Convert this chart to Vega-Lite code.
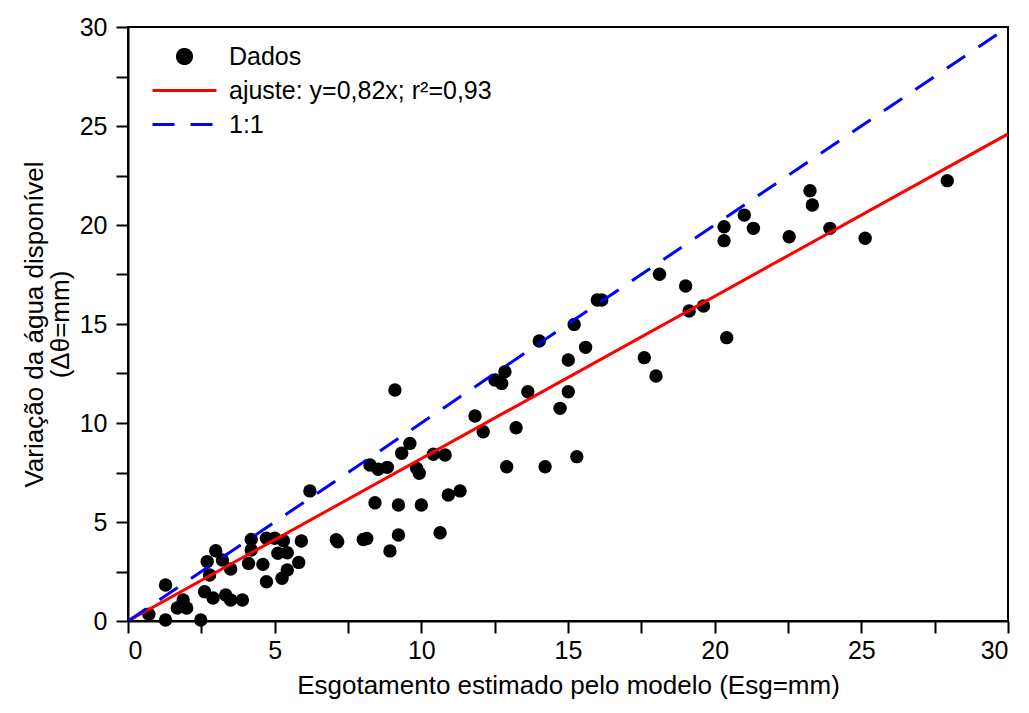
{
  "$schema": "https://vega.github.io/schema/vega-lite/v6.json",
  "autosize": "none",
  "width": 880,
  "height": 594,
  "padding": {"left": 128, "top": 27, "right": 21, "bottom": 92},
  "background": "white",
  "config": {
    "view": {"stroke": "black", "strokeWidth": 2},
    "font": "Liberation Sans",
    "axis": {
      "grid": false,
      "domainColor": "black",
      "domainWidth": 2,
      "tickColor": "black",
      "tickWidth": 2,
      "labelColor": "black",
      "labelFont": "Liberation Sans",
      "labelFontSize": 25,
      "titleFont": "Liberation Sans",
      "titleFontSize": 26,
      "titleFontWeight": "normal",
      "titleColor": "black"
    },
    "legend": {
      "title": null,
      "orient": "none",
      "legendX": 44,
      "legendY": 17,
      "labelFontSize": 25,
      "labelFont": "Liberation Sans",
      "labelColor": "black",
      "labelLimit": 0,
      "labelOffset": 32,
      "rowPadding": 8,
      "symbolSize": 200,
      "symbolStrokeWidth": 3
    }
  },
  "layer": [
    {
      "data": {"values": [
        {"x": 0.71, "y": 0.34}, {"x": 1.28, "y": 1.82}, {"x": 1.28, "y": 0.05}, {"x": 1.68, "y": 0.66},
        {"x": 1.88, "y": 1.06}, {"x": 2.0, "y": 0.66}, {"x": 2.48, "y": 0.05}, {"x": 2.61, "y": 1.48},
        {"x": 2.7, "y": 3.0}, {"x": 2.78, "y": 2.32}, {"x": 2.9, "y": 1.16}, {"x": 2.99, "y": 3.55},
        {"x": 3.22, "y": 3.08}, {"x": 3.33, "y": 1.31}, {"x": 3.5, "y": 1.06}, {"x": 3.5, "y": 2.63},
        {"x": 3.9, "y": 1.06}, {"x": 4.11, "y": 2.91}, {"x": 4.2, "y": 3.58}, {"x": 4.2, "y": 4.12},
        {"x": 4.6, "y": 2.86}, {"x": 4.72, "y": 1.98}, {"x": 4.72, "y": 4.18}, {"x": 5.0, "y": 4.18},
        {"x": 5.11, "y": 3.42}, {"x": 5.25, "y": 2.16}, {"x": 5.3, "y": 4.05}, {"x": 5.43, "y": 3.45},
        {"x": 5.43, "y": 2.58}, {"x": 5.82, "y": 2.96}, {"x": 5.91, "y": 4.04}, {"x": 6.2, "y": 6.57},
        {"x": 7.1, "y": 4.1}, {"x": 7.15, "y": 4.0}, {"x": 8.02, "y": 4.12}, {"x": 8.14, "y": 4.17},
        {"x": 8.25, "y": 7.88}, {"x": 8.42, "y": 5.97}, {"x": 8.53, "y": 7.66}, {"x": 8.84, "y": 7.76},
        {"x": 8.93, "y": 3.54}, {"x": 9.1, "y": 11.67}, {"x": 9.22, "y": 5.86}, {"x": 9.22, "y": 4.34},
        {"x": 9.33, "y": 8.47}, {"x": 9.61, "y": 8.97}, {"x": 9.84, "y": 7.71}, {"x": 9.93, "y": 7.46},
        {"x": 10.0, "y": 5.86}, {"x": 10.41, "y": 8.42}, {"x": 10.64, "y": 4.46}, {"x": 10.81, "y": 8.38},
        {"x": 10.92, "y": 6.36}, {"x": 11.32, "y": 6.57}, {"x": 11.83, "y": 10.35}, {"x": 12.11, "y": 9.56},
        {"x": 12.51, "y": 12.17}, {"x": 12.74, "y": 12.0}, {"x": 12.85, "y": 12.59}, {"x": 12.91, "y": 7.79},
        {"x": 13.23, "y": 9.76}, {"x": 13.63, "y": 11.58}, {"x": 14.02, "y": 14.14}, {"x": 14.22, "y": 7.79},
        {"x": 14.73, "y": 10.74}, {"x": 15.01, "y": 11.58}, {"x": 15.01, "y": 13.18}, {"x": 15.21, "y": 14.98},
        {"x": 15.3, "y": 8.3}, {"x": 15.6, "y": 13.82}, {"x": 16.0, "y": 16.21}, {"x": 16.15, "y": 16.21},
        {"x": 17.6, "y": 13.3}, {"x": 18.0, "y": 12.37}, {"x": 18.12, "y": 17.51}, {"x": 19.01, "y": 16.92},
        {"x": 19.13, "y": 15.66}, {"x": 19.62, "y": 15.91}, {"x": 20.32, "y": 19.91}, {"x": 20.32, "y": 19.21},
        {"x": 20.41, "y": 14.31}, {"x": 21.01, "y": 20.5}, {"x": 21.32, "y": 19.83}, {"x": 22.54, "y": 19.41},
        {"x": 23.25, "y": 21.73}, {"x": 23.33, "y": 21.01}, {"x": 23.93, "y": 19.83}, {"x": 25.13, "y": 19.33},
        {"x": 27.93, "y": 22.24}
      ]},
      "mark": {"type": "point", "filled": true, "opacity": 1, "size": 180},
      "encoding": {
        "x": {
          "field": "x", "type": "quantitative",
          "scale": {"domain": [0, 30], "nice": false, "zero": false},
          "axis": {
            "orient": "bottom",
            "values": [0, 2.5, 5, 7.5, 10, 12.5, 15, 17.5, 20, 22.5, 25, 27.5, 30],
            "labelExpr": "datum.value % 5 === 0 ? datum.label : ''",
            "tickSize": 12, "labelPadding": 5,
            "title": "Esgotamento estimado pelo modelo (Esg=mm)", "titlePadding": 9,
            "encode": {"ticks": {"update": {"y2": {"signal": "datum.value % 5 === 0 ? 12 : 7"}}}}
          }
        },
        "y": {
          "field": "y", "type": "quantitative",
          "scale": {"domain": [0, 30], "nice": false, "zero": false},
          "axis": {
            "orient": "left",
            "values": [0, 2.5, 5, 7.5, 10, 12.5, 15, 17.5, 20, 22.5, 25, 27.5, 30],
            "labelExpr": "datum.value % 5 === 0 ? datum.label : ''",
            "tickSize": 12, "labelPadding": 9,
            "title": ["Variação da água disponível", "(Δθ=mm)"], "titlePadding": 6, "titleLineHeight": 26,
            "encode": {"ticks": {"update": {"x2": {"signal": "datum.value % 5 === 0 ? -12 : -7"}}}}
          }
        },
        "color": {
          "datum": "Dados", "type": "nominal",
          "scale": {"domain": ["Dados", "ajuste: y=0,82x; r²=0,93", "1:1"], "range": ["black", "#ff0000", "#0000ff"]},
          "legend": {
            "encode": {
              "symbols": {
                "update": {
                  "shape": {"signal": "datum.value === 'Dados' ? 'circle' : 'M-16,0H16'"},
                  "size": {"signal": "datum.value === 'Dados' ? 200 : 16"},
                  "strokeDash": {"signal": "datum.value === '1:1' ? [22, 16] : [1, 0]"},
                  "strokeWidth": {"value": 3},
                  "fill": {"signal": "datum.value === 'Dados' ? 'black' : 'transparent'"},
                  "opacity": {"value": 1}
                }
              }
            }
          }
        }
      }
    },
    {
      "data": {"values": [{"x": 0, "y": 0}, {"x": 30, "y": 24.6}]},
      "mark": {"type": "line", "strokeWidth": 3, "clip": true},
      "encoding": {
        "x": {"field": "x", "type": "quantitative"},
        "y": {"field": "y", "type": "quantitative"},
        "color": {
          "datum": "ajuste: y=0,82x; r²=0,93", "type": "nominal",
          "legend": {
            "encode": {
              "symbols": {
                "update": {
                  "shape": {"signal": "datum.value === 'Dados' ? 'circle' : 'M-16,0H16'"},
                  "size": {"signal": "datum.value === 'Dados' ? 200 : 16"},
                  "strokeDash": {"signal": "datum.value === '1:1' ? [22, 16] : [1, 0]"},
                  "strokeWidth": {"value": 3},
                  "fill": {"signal": "datum.value === 'Dados' ? 'black' : 'transparent'"},
                  "opacity": {"value": 1}
                }
              }
            }
          }
        }
      }
    },
    {
      "data": {"values": [{"x": 0, "y": 0}, {"x": 30, "y": 30}]},
      "mark": {"type": "line", "strokeWidth": 3, "strokeDash": [22, 16], "clip": true},
      "encoding": {
        "x": {"field": "x", "type": "quantitative"},
        "y": {"field": "y", "type": "quantitative"},
        "color": {
          "datum": "1:1", "type": "nominal",
          "legend": {
            "encode": {
              "symbols": {
                "update": {
                  "shape": {"signal": "datum.value === 'Dados' ? 'circle' : 'M-16,0H16'"},
                  "size": {"signal": "datum.value === 'Dados' ? 200 : 16"},
                  "strokeDash": {"signal": "datum.value === '1:1' ? [22, 16] : [1, 0]"},
                  "strokeWidth": {"value": 3},
                  "fill": {"signal": "datum.value === 'Dados' ? 'black' : 'transparent'"},
                  "opacity": {"value": 1}
                }
              }
            }
          }
        }
      }
    }
  ]
}
